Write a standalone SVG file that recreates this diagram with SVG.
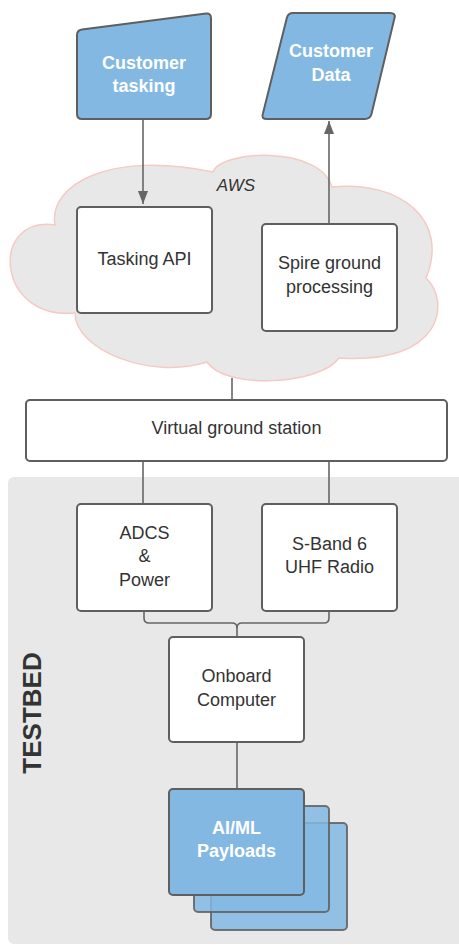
<svg xmlns="http://www.w3.org/2000/svg" width="459" height="945" viewBox="0 0 459 945">
<defs>
<style>
.box{fill:#ffffff;stroke:#5f5f5f;stroke-width:2}
.blue{fill:#83b8e3;stroke:#5f5f5f;stroke-width:2}
.lbl{font-family:"Liberation Sans",Arial,sans-serif;font-size:18px;fill:#333333;text-anchor:middle}
.wlbl{font-family:"Liberation Sans",Arial,sans-serif;font-size:18px;font-weight:bold;fill:#ffffff;text-anchor:middle}
.conn{fill:none;stroke:#666666;stroke-width:1.6}
</style>
<marker id="arrow" viewBox="0 0 13 10" refX="13" refY="5" markerWidth="13" markerHeight="10" markerUnits="userSpaceOnUse" orient="auto">
<path d="M0 0 L13 5 L0 10 Z" fill="#666666"/>
</marker>
</defs>
<rect width="459" height="945" fill="#ffffff"/>

<g id="testbed">
<rect x="8" y="477" width="460" height="467" rx="6" fill="#e8e8e8"/>
<text x="41" y="713" transform="rotate(-90 41 713)" font-family="Liberation Sans,Arial,sans-serif" font-size="26" font-weight="bold" fill="#333333" text-anchor="middle">TESTBED</text>
</g>

<g id="aws">
<path d="M55 225 C48 185 110 150 213 172 C220 150 320 145 332 187 C400 180 450 220 426 278 C450 300 445 365 339 358 C320 385 225 390 207 362 C150 380 75 350 75 313 C-5 320 -10 215 55 225 Z" fill="#e8e8e8" stroke="#f5cac4" stroke-width="1.5"/>
<text x="236" y="191" font-family="Liberation Sans,Arial,sans-serif" font-size="17" font-style="italic" fill="#333333" text-anchor="middle">AWS</text>
</g>

<g id="connectors">
<line class="conn" x1="143" y1="119" x2="143" y2="204" marker-end="url(#arrow)"/>
<line class="conn" x1="329" y1="224" x2="329" y2="121" marker-end="url(#arrow)"/>
<line class="conn" x1="232" y1="378" x2="232" y2="400"/>
<line class="conn" x1="143" y1="461" x2="143" y2="504"/>
<line class="conn" x1="329" y1="461" x2="329" y2="504"/>
<path class="conn" d="M144 611 L144 618 Q144 623 149 623 L232 623 Q237 623 237 628 L237 637"/>
<path class="conn" d="M329 611 L329 618 Q329 623 324 623 L242 623 Q237 623 237 628"/>
<line class="conn" x1="237" y1="742" x2="237" y2="789"/>
</g>

<g id="customer-tasking">
<path class="blue" d="M77 35 Q77 30 82 29.4 L206 13.6 Q211 13 211 18 L211 114 Q211 119 206 119 L82 119 Q77 119 77 114 Z"/>
<text class="wlbl" x="144" y="69">Customer</text>
<text class="wlbl" x="144" y="92">tasking</text>
</g>

<g id="customer-data">
<path class="blue" d="M293 13 L390 13 Q396 13 394.5 18 L371.5 114 Q370 119 365 119 L267 119 Q261 119 262.8 114 L286.8 18 Q288 13 293 13 Z"/>
<text class="wlbl" x="331" y="57">Customer</text>
<text class="wlbl" x="331" y="81">Data</text>
</g>

<g id="tasking-api">
<rect class="box" x="77" y="207" width="135" height="106" rx="4"/>
<text class="lbl" x="144.5" y="265">Tasking API</text>
</g>

<g id="spire-ground">
<rect class="box" x="262" y="224" width="135" height="107" rx="4"/>
<text class="lbl" x="329.5" y="269">Spire ground</text>
<text class="lbl" x="329.5" y="293">processing</text>
</g>

<g id="virtual-ground-station">
<rect class="box" x="26" y="400" width="421" height="61" rx="4"/>
<text class="lbl" x="236.5" y="434">Virtual ground station</text>
</g>

<g id="adcs">
<rect class="box" x="77" y="504" width="135" height="107" rx="4"/>
<text class="lbl" x="144.5" y="539">ADCS</text>
<text class="lbl" x="144.5" y="562">&amp;</text>
<text class="lbl" x="144.5" y="586">Power</text>
</g>

<g id="s-band">
<rect class="box" x="262" y="504" width="135" height="107" rx="4"/>
<text class="lbl" x="329.5" y="550">S-Band 6</text>
<text class="lbl" x="329.5" y="573">UHF Radio</text>
</g>

<g id="onboard-computer">
<rect class="box" x="169" y="637" width="135" height="105" rx="4"/>
<text class="lbl" x="236.5" y="682">Onboard</text>
<text class="lbl" x="236.5" y="706">Computer</text>
</g>

<g id="aiml-payloads">
<rect x="211" y="823" width="136" height="107" rx="4" fill="#83b8e3" fill-opacity="0.85" stroke="#5f5f5f" stroke-opacity="0.85" stroke-width="2"/>
<rect x="194" y="806" width="135" height="106" rx="4" fill="#83b8e3" fill-opacity="0.85" stroke="#5f5f5f" stroke-opacity="0.85" stroke-width="2"/>
<rect class="blue" x="169" y="789" width="135" height="106" rx="4"/>
<text class="wlbl" x="236.5" y="834">AI/ML</text>
<text class="wlbl" x="236.5" y="857">Payloads</text>
</g>
</svg>
